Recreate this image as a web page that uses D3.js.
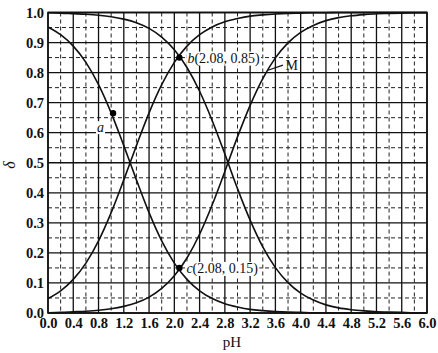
<!DOCTYPE html>
<html><head><meta charset="utf-8">
<script src="https://cdn.jsdelivr.net/npm/d3@7"></script>
<style>
body{margin:0;background:#fff;}
text{font-family:"Liberation Serif","Times New Roman",serif;fill:#111;}
</style></head>
<body><svg id="c" width="438" height="353"></svg>
<script>
const pH = [0,0.2,0.4,0.6,0.8,1.0,1.2,1.4,1.6,1.8,2.0,2.2,2.4,2.6,2.8,3.0,3.2,3.4,3.6,3.8,4.0,4.2,4.4,4.6,4.8,5.0,5.2,5.4,5.6,5.8,6.0];
const curveA = [0.952,0.926,0.888,0.834,0.760,0.666,0.557,0.443,0.334,0.240,0.166,0.112,0.074,0.048,0.031,0.020,0.012,0.008,0.005,0.003,0.002,0.001,0.001,0,0,0,0,0,0,0,0];
const curveB = [0.048,0.074,0.112,0.166,0.240,0.334,0.443,0.557,0.666,0.760,0.834,0.888,0.926,0.952,0.969,0.980,0.988,0.992,0.995,0.997,0.998,0.999,0.999,1,1,1,1,1,1,1,1];
const curveC = [0.999,0.998,0.996,0.994,0.991,0.986,0.978,0.966,0.947,0.918,0.876,0.817,0.738,0.640,0.529,0.414,0.309,0.220,0.151,0.101,0.066,0.043,0.027,0.017,0.011,0.007,0.004,0.003,0.002,0.001,0.001];
const curveD = [0.001,0.002,0.004,0.006,0.009,0.014,0.022,0.034,0.053,0.082,0.124,0.183,0.262,0.360,0.471,0.586,0.691,0.780,0.849,0.899,0.934,0.957,0.973,0.983,0.989,0.993,0.996,0.997,0.998,0.999,0.999];
const xTicks = [0.0,0.4,0.8,1.2,1.6,2.0,2.4,2.8,3.2,3.6,4.0,4.4,4.8,5.2,5.6,6.0];
const yTicks = [0.0,0.1,0.2,0.3,0.4,0.5,0.6,0.7,0.8,0.9,1.0];
const xMinor = [0.2,0.6,1.0,1.4,1.8,2.2,2.6,3.0,3.4,3.8,4.2,4.6,5.0,5.4,5.8];
const yMinor = [0.05,0.15,0.25,0.35,0.45,0.55,0.65,0.75,0.85,0.95];
const points = [{name:"a", x:1.03, y:0.665},{name:"b", x:2.08, y:0.85},{name:"c", x:2.08, y:0.15}];

const svg = d3.select("#c");
const L=48, R=427, T=12.5, B=313;
const x = d3.scaleLinear().domain([0,6]).range([L,R]);
const y = d3.scaleLinear().domain([0,1]).range([B,T]);

// minor dashed grid
svg.append("g").selectAll("line").data(xMinor).join("line")
  .attr("x1",d=>x(d)).attr("x2",d=>x(d)).attr("y1",T).attr("y2",B)
  .attr("stroke","#222").attr("stroke-width",1).attr("stroke-dasharray","4,3");
svg.append("g").selectAll("line").data(yMinor).join("line")
  .attr("y1",d=>y(d)).attr("y2",d=>y(d)).attr("x1",L).attr("x2",R)
  .attr("stroke","#222").attr("stroke-width",1).attr("stroke-dasharray","4,3");
// major solid grid
svg.append("g").selectAll("line").data(xTicks).join("line")
  .attr("x1",d=>x(d)).attr("x2",d=>x(d)).attr("y1",T).attr("y2",B)
  .attr("stroke","#111").attr("stroke-width",1.3);
svg.append("g").selectAll("line").data(yTicks).join("line")
  .attr("y1",d=>y(d)).attr("y2",d=>y(d)).attr("x1",L).attr("x2",R)
  .attr("stroke","#111").attr("stroke-width",1.3);
svg.append("rect").attr("x",L).attr("y",T).attr("width",R-L).attr("height",B-T)
  .attr("fill","none").attr("stroke","#111").attr("stroke-width",1.6);

// axes
const xa = svg.append("g").attr("transform",`translate(0,${B})`)
  .call(d3.axisBottom(x).tickValues(xTicks).tickFormat(d3.format(".1f")).tickSize(0).tickPadding(5));
xa.select(".domain").remove();
xa.selectAll("text").attr("font-size",14.5).attr("font-weight","bold").attr("font-family","Liberation Serif").attr("fill","#222");
const ya = svg.append("g").attr("transform",`translate(${L},0)`)
  .call(d3.axisLeft(y).tickValues(yTicks).tickFormat(d3.format(".1f")).tickSize(0).tickPadding(4));
ya.select(".domain").remove();
ya.selectAll("text").attr("font-size",14.5).attr("font-weight","bold").attr("font-family","Liberation Serif").attr("fill","#222");

// label backgrounds + labels
function label(xp, yp, italicPart, rest){
  const g = svg.append("g");
  const bg = g.append("rect").attr("fill","#fff");
  const t = g.append("text").attr("x",xp).attr("y",yp).attr("font-size",14);
  t.append("tspan").attr("font-style","italic").text(italicPart);
  if(rest) t.append("tspan").text(rest);
  const bb = t.node().getBBox();
  bg.attr("x",bb.x-1).attr("y",bb.y+1).attr("width",bb.width+2).attr("height",bb.height-2);
}
label(x(1.03)-16, y(0.665)+19, "a", "");
label(x(2.08)+8, y(0.85)+5, "b", "(2.08, 0.85)");
label(x(2.08)+7, y(0.15)+5, "c", "(2.08, 0.15)");

// curves
const line = d3.line().x((d,i)=>x(pH[i])).y(d=>y(d)).curve(d3.curveMonotoneX);
[curveA,curveB,curveC,curveD].forEach(s=>{
  svg.append("path").datum(s).attr("d",line).attr("fill","none")
    .attr("stroke","#111").attr("stroke-width",1.6);
});

// points
svg.append("g").selectAll("circle").data(points).join("circle")
  .attr("cx",d=>x(d.x)).attr("cy",d=>y(d.y)).attr("r",3.2).attr("fill","#000");

// M leader
svg.append("line").attr("x1",x(3.47)).attr("y1",y(0.807)).attr("x2",x(3.72)).attr("y2",y(0.825))
  .attr("stroke","#111").attr("stroke-width",1.2);
svg.append("text").attr("x",x(3.76)).attr("y",y(0.81)).attr("font-size",14).text("M");

// axis titles
svg.append("text").attr("x",232).attr("y",347).attr("text-anchor","middle").attr("font-size",15).text("pH");
svg.append("text").attr("transform","translate(15,165) rotate(-90)").attr("text-anchor","middle")
  .attr("font-size",16).attr("font-style","italic").text("δ");
</script></body></html>
